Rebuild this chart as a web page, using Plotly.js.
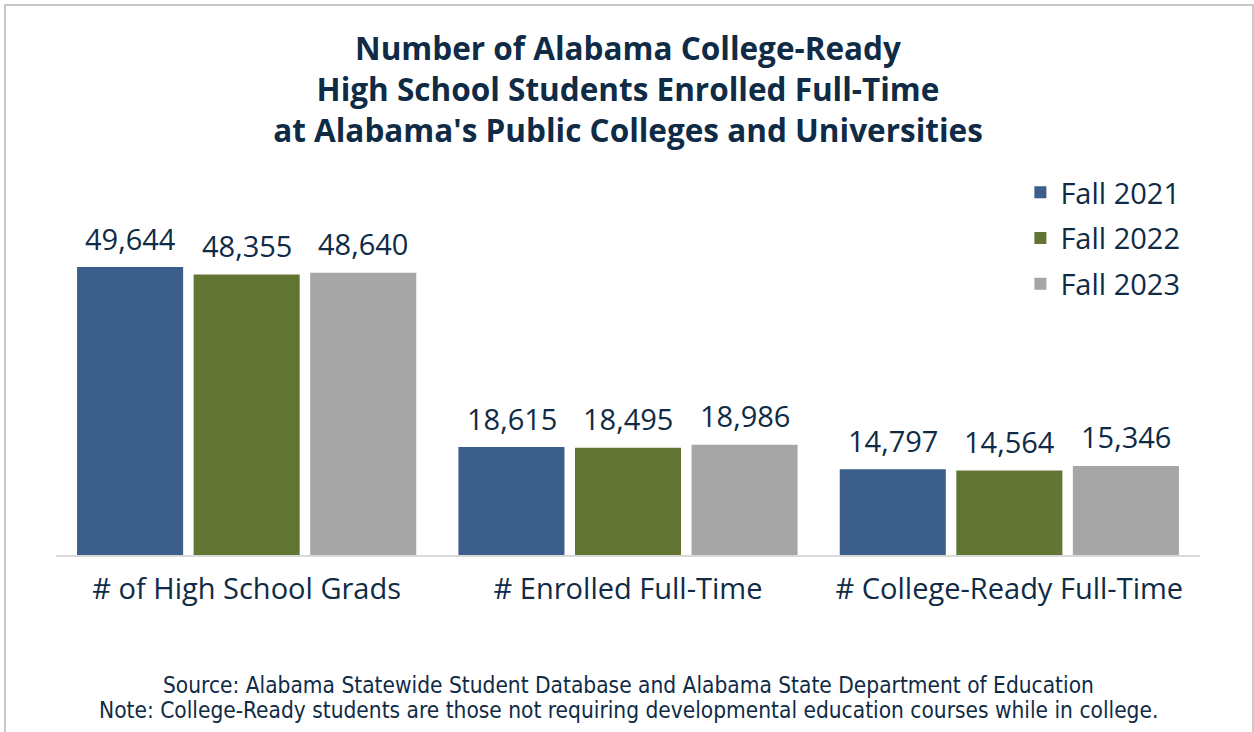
<!DOCTYPE html>
<html>
<head>
<meta charset="utf-8">
<script src="https://cdn.plot.ly/plotly-3.0.1.min.js"></script>
<style>
  html, body { margin: 0; padding: 0; background: #ffffff; }
  #chart { width: 1254px; height: 732px; }
</style>
</head>
<body>
<div id="chart"></div>
<script>
// ---- data ----
const categories = ["# of High School Grads", "# Enrolled Full-Time", "# College-Ready Full-Time"];
const seriesNames = ["Fall 2021", "Fall 2022", "Fall 2023"];
const fall2021 = [49644, 18615, 14797];
const fall2022 = [48355, 18495, 14564];
const fall2023 = [48640, 18986, 15346];
const seriesValues = [fall2021, fall2022, fall2023];
const seriesColors = ["#3B5E8B", "#637532", "#A6A6A6"];
const titleText = "Number of Alabama College-Ready<br>High School Students Enrolled Full-Time<br>at Alabama's Public Colleges and Universities";
const sourceText = "Source: Alabama Statewide Student Database and Alabama State Department of Education";
const noteText = "Note: College-Ready students are those not requiring developmental education courses while in college.";

const textColor = "#0f2b46";
const baseFont = "'Open Sans', Roboto, sans-serif";
const narrowFont = "'Liberation Sans Narrow', 'DejaVu Sans Condensed', 'Roboto Condensed', sans-serif";

const fmt = v => v.toLocaleString("en-US");

const traces = seriesValues.map((vals, i) => ({
  type: "bar",
  name: seriesNames[i],
  x: categories,
  y: vals,
  marker: { color: seriesColors[i] },
  legendgroup: "g" + i,
  hoverinfo: "skip"
}));

// value labels above bars (offset per series within a group)
const groupShift = [-116.5, 0, 116.5];
const annotations = [];
seriesValues.forEach((vals, i) => {
  vals.forEach((v, j) => {
    annotations.push({
      x: categories[j], y: v, xref: "x", yref: "y",
      text: fmt(v), showarrow: false,
      xshift: groupShift[i], yshift: 29, yanchor: "middle",
      font: { family: baseFont, size: 29, color: textColor }
    });
  });
});
annotations.push({
  xref: "paper", yref: "paper", x: 0.5, y: -0.3467, yanchor: "middle", xanchor: "center",
  text: sourceText, showarrow: false,
  font: { family: narrowFont, size: 22.5, color: textColor }
});
annotations.push({
  xref: "paper", yref: "paper", x: 0.5, y: -0.4133, yanchor: "middle", xanchor: "center",
  text: noteText, showarrow: false,
  font: { family: narrowFont, size: 22.5, color: textColor }
});

const layout = {
  width: 1254,
  height: 732,
  margin: { l: 56, r: 54, t: 180, b: 177 },
  paper_bgcolor: "#ffffff",
  plot_bgcolor: "#ffffff",
  title: {
    text: titleText,
    x: 0.5, xref: "paper", xanchor: "center",
    y: 1 - 60 / 732, yref: "container", yanchor: "middle",
    font: { family: baseFont, size: 31.5, color: textColor, weight: "bold" }
  },
  barmode: "group",
  bargap: 0.083,
  bargroupgap: 0.09,
  xaxis: {
    type: "category",
    showline: true, linecolor: "#d9d9d9", linewidth: 2,
    showgrid: false, zeroline: false, ticks: "",
    tickfont: { family: baseFont, size: 29, color: textColor },
    ticklabelstandoff: 7
  },
  yaxis: {
    range: [0, 64640],
    visible: false, showgrid: false, zeroline: false, fixedrange: true
  },
  showlegend: true,
  legend: {
    x: 0.843, xanchor: "left",
    y: 1.035, yanchor: "top",
    traceorder: "grouped",
    tracegroupgap: 5,
    font: { family: baseFont, size: 29, color: textColor },
    bgcolor: "rgba(0,0,0,0)"
  },
  annotations: annotations,
  shapes: [{
    type: "rect", xref: "paper", yref: "paper",
    x0: -0.0446, x1: 1.0463, y0: -0.52, y1: 1.4667,
    line: { color: "#c8c8c8", width: 2 }, fillcolor: "rgba(0,0,0,0)", layer: "below"
  }]
};

Plotly.newPlot("chart", traces, layout, { displayModeBar: false, staticPlot: true });
</script>
</body>
</html>
